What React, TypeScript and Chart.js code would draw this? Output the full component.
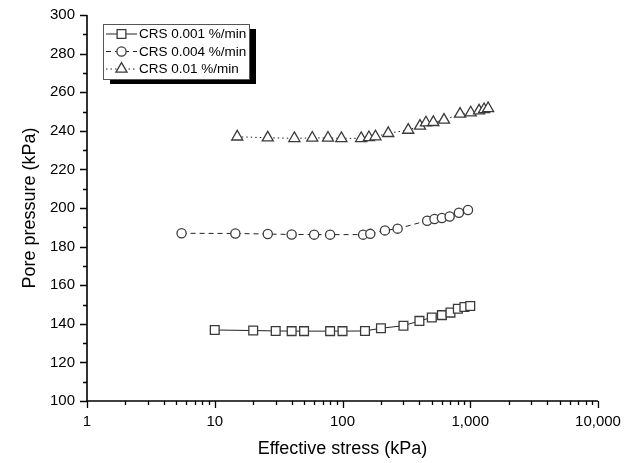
import React, { useEffect, useRef } from 'react';
import { Chart, registerables } from 'chart.js';

Chart.register(...registerables);

// ---- data ----
const stress001 = [10, 20, 30, 40, 50, 80, 100, 150, 200, 300, 400, 500, 600, 700, 800, 900, 1000];
const pore001 = [136.8, 136.5, 136.3, 136.2, 136.2, 136.2, 136.2, 136.3, 137.7, 139, 141.5, 143.3, 144.5, 145.8, 147.8, 148.7, 149.2];

const stress004 = [5.5, 14.5, 26, 40, 60, 80, 145, 165, 215, 270, 460, 525, 600, 690, 815, 960];
const pore004 = [186.9, 186.8, 186.5, 186.3, 186.2, 186.2, 186.2, 186.6, 188.4, 189.3, 193.4, 194.3, 194.8, 195.6, 197.5, 199];

const stress01 = [15, 26, 42, 58, 77, 98, 140, 161, 181, 228, 327, 404, 450, 514, 623, 832, 1008, 1172, 1283, 1380];
const pore01 = [236.9, 236.4, 236.1, 236.3, 236.3, 236.1, 236.1, 236.6, 237, 238.7, 240.4, 242.5, 244.2, 244.4, 245.6, 248.7, 249.4, 250.4, 251.1, 251.6];

const seriesLabels = ['CRS 0.001 %/min', 'CRS 0.004 %/min', 'CRS 0.01 %/min'];
const xMajorTicks = [1, 10, 100, 1000, 10000];
const xTickLabels = ['1', '10', '100', '1,000', '10,000'];
const yMin = 100;
const yMax = 300;
const yStep = 20;
const xTitle = 'Effective stress (kPa)';
const yTitle = 'Pore pressure (kPa)';

const FONT = '"Liberation Sans", Arial, Helvetica, sans-serif';
const LINE = '#222';
const MARK = '#3a3a3a';
const R_RECT = 6.2;
const R_CIRC = 4.6;
const R_TRI = 6.4;

const pts = (xs: number[], ys: number[]) => xs.map((x, i) => ({ x, y: ys[i] }));

function drawMarker(ctx: CanvasRenderingContext2D, style: string, x: number, y: number, r: number) {
  ctx.beginPath();
  if (style === 'rect') {
    const s = r * Math.SQRT1_2;
    ctx.rect(x - s, y - s, 2 * s, 2 * s);
  } else if (style === 'circle') {
    ctx.arc(x, y, r, 0, Math.PI * 2);
  } else {
    let a = 0;
    ctx.moveTo(x + Math.sin(a) * r, y - Math.cos(a) * r);
    a += (2 * Math.PI) / 3;
    ctx.lineTo(x + Math.sin(a) * r, y - Math.cos(a) * r);
    a += (2 * Math.PI) / 3;
    ctx.lineTo(x + Math.sin(a) * r, y - Math.cos(a) * r);
    ctx.closePath();
  }
  ctx.fillStyle = '#fff';
  ctx.fill();
  ctx.stroke();
}

const axesPlugin = {
  id: 'axesPlugin',
  afterDatasetsDraw(chart: any) {
    const ctx: CanvasRenderingContext2D = chart.ctx;
    const xs = chart.scales.x;
    const ys = chart.scales.y;
    const { left, right, top, bottom } = chart.chartArea;
    ctx.save();
    ctx.strokeStyle = '#000';
    ctx.lineWidth = 1.6;
    ctx.beginPath();
    ctx.moveTo(left, top);
    ctx.lineTo(left, bottom);
    ctx.lineTo(right, bottom);
    ctx.stroke();
    ctx.lineWidth = 1.3;
    ctx.beginPath();
    for (let d = 1; d <= 10000; d *= 10) {
      for (let m = 1; m <= 9; m++) {
        const v = d * m;
        if (v > 10000) break;
        const px = Math.round(xs.getPixelForValue(v)) + 0.5;
        const len = m === 1 ? 7 : 4;
        ctx.moveTo(px, bottom);
        ctx.lineTo(px, bottom + len);
      }
    }
    for (let v = yMin; v <= yMax; v += yStep / 2) {
      const py = Math.round(ys.getPixelForValue(v)) + 0.5;
      const len = (v - yMin) % yStep === 0 ? 7 : 4;
      ctx.moveTo(left, py);
      ctx.lineTo(left - len, py);
    }
    ctx.stroke();
    ctx.restore();
  },
};

const legendPlugin = {
  id: 'boxLegend',
  afterDraw(chart: any) {
    const ctx: CanvasRenderingContext2D = chart.ctx;
    const { left, top } = chart.chartArea;
    const bx = left + 16;
    const by = top + 9;
    const bw = 146;
    const bh = 55;
    ctx.save();
    ctx.fillStyle = '#000';
    ctx.fillRect(bx + 7, by + 5, bw, bh);
    ctx.fillStyle = '#fff';
    ctx.fillRect(bx, by, bw, bh);
    ctx.strokeStyle = '#555';
    ctx.lineWidth = 1;
    ctx.strokeRect(bx + 0.5, by + 0.5, bw, bh);
    chart.data.datasets.forEach((ds: any, i: number) => {
      const cy = by + 10 + i * 17.5;
      const x0 = bx + 3;
      const x1 = bx + 34;
      const mx = (x0 + x1) / 2;
      ctx.strokeStyle = LINE;
      ctx.lineWidth = 1;
      ctx.setLineDash(ds.borderDash || []);
      ctx.beginPath();
      ctx.moveTo(x0, cy);
      ctx.lineTo(x1, cy);
      ctx.stroke();
      ctx.setLineDash([]);
      ctx.strokeStyle = MARK;
      ctx.lineWidth = 1.3;
      drawMarker(ctx, ds.pointStyle, mx, cy, ds.pointRadius);
      ctx.fillStyle = '#000';
      ctx.font = `13.5px ${FONT}`;
      ctx.textBaseline = 'middle';
      ctx.textAlign = 'left';
      ctx.fillText(ds.label, x1 + 2, cy + 0.5);
    });
    ctx.restore();
  },
};

export default function App() {
  const ref = useRef<HTMLCanvasElement | null>(null);

  useEffect(() => {
    if (!ref.current) return;
    Chart.defaults.font.family = FONT;
    const common = {
      borderColor: LINE,
      borderWidth: 1,
      pointBorderColor: MARK,
      pointBackgroundColor: '#fff',
      pointBorderWidth: 1.3,
      fill: false,
      tension: 0,
      showLine: true,
    };
    const chart = new Chart(ref.current, {
      type: 'scatter',
      data: {
        datasets: [
          { ...common, label: seriesLabels[0], data: pts(stress001, pore001), pointStyle: 'rect', pointRadius: R_RECT, borderDash: [] },
          { ...common, label: seriesLabels[1], data: pts(stress004, pore004), pointStyle: 'circle', pointRadius: R_CIRC, borderDash: [5, 4] },
          { ...common, label: seriesLabels[2], data: pts(stress01, pore01), pointStyle: 'triangle', pointRadius: R_TRI, borderDash: [1.5, 3] },
        ] as any,
      },
      options: {
        responsive: false,
        animation: false,
        layout: { padding: { left: 0, top: 15, right: 38, bottom: 0 } },
        plugins: { legend: { display: false }, tooltip: { enabled: false } },
        scales: {
          x: {
            type: 'logarithmic',
            min: 1,
            max: 10000,
            afterFit: (s: any) => { s.height = 62; },
            afterBuildTicks: (s: any) => { s.ticks = xMajorTicks.map((v) => ({ value: v })); },
            ticks: {
              autoSkip: false,
              maxRotation: 0,
              color: '#000',
              font: { size: 15 },
              padding: 5,
              callback: (v: any) => {
                const i = xMajorTicks.indexOf(Number(v));
                return i >= 0 ? xTickLabels[i] : '';
              },
            },
            grid: { display: true, drawOnChartArea: false, drawTicks: true, tickLength: 7, color: 'rgba(0,0,0,0)' },
            border: { display: false },
            title: { display: true, text: xTitle, color: '#000', font: { size: 18 }, padding: { top: 0, bottom: 3 } },
          },
          y: {
            type: 'linear',
            min: yMin,
            max: yMax,
            afterFit: (s: any) => { s.width = 87; },
            ticks: { stepSize: yStep, color: '#000', font: { size: 15 }, padding: 5 },
            grid: { display: true, drawOnChartArea: false, drawTicks: true, tickLength: 7, color: 'rgba(0,0,0,0)' },
            border: { display: false },
            title: { display: true, text: yTitle, color: '#000', font: { size: 18 }, padding: { top: 19, bottom: 0 } },
          },
        },
      } as any,
      plugins: [axesPlugin, legendPlugin],
    });
    return () => chart.destroy();
  }, []);

  return (
    <div style={{ position: 'fixed', left: 0, top: 0, width: 636, height: 463, background: '#fff' }}>
      <canvas ref={ref} width={636} height={463} style={{ width: 636, height: 463, display: 'block' }} />
    </div>
  );
}
